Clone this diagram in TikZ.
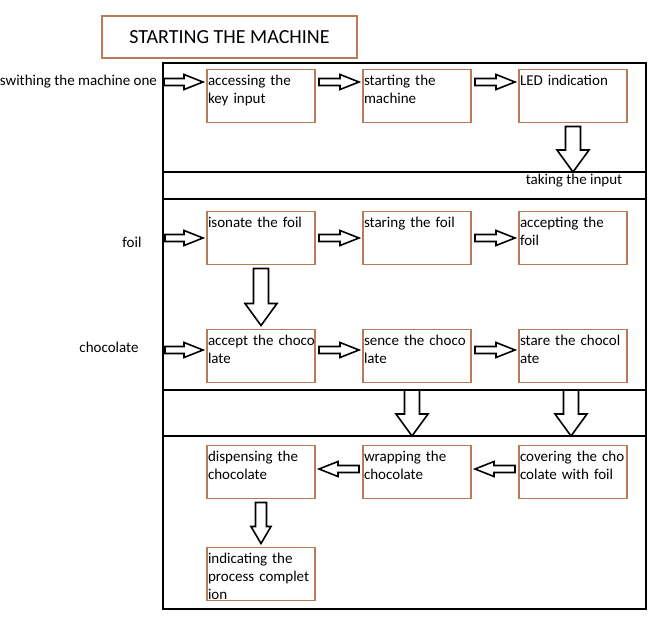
\documentclass[tikz,border=0pt]{standalone}
\usepackage{fontspec}
\setmainfont{Carlito}
\usetikzlibrary{calc}
\usetikzlibrary{positioning}

\definecolor{boxbrown}{RGB}{185,122,87}

\begin{document}
\begin{tikzpicture}[
		x=1pt,
		y=-1pt,
		font=\fontsize{15}{18}\selectfont,
		step box/.style={
			draw=boxbrown,
			line width=1.6pt,
			text width=106pt,
			inner xsep=1pt,
			inner ysep=3pt,
			text height=13pt,
			text depth=34pt,
			align=left,
			outer sep=4pt
		},
		title box/.style={
			draw=boxbrown,
			line width=1.6pt,
			minimum width=255pt,
			minimum height=42pt,
			font=\fontsize{20}{24}\selectfont
		},
		side label/.style={inner sep=2pt},
		block arrow/.style n args={3}{
			draw=black,
			line width=1.6pt,
			fill=white,
			to path={
				let \p1=(\tikztostart), \p2=(\tikztotarget),
				\n1={veclen(\x2-\x1,\y2-\y1)}, \n2={atan2(\y2-\y1,\x2-\x1)}
				in {[shift={(\p1)}, rotate=\n2]
					(0pt,-#1) -- ({\n1-#3},-#1) -- ({\n1-#3},-#2) -- ({\n1},0pt)
					-- ({\n1-#3},#2) -- ({\n1-#3},#1) -- (0pt,#1) -- cycle}
			}
		},
		flow arrow/.style={block arrow={3.5pt}{7.5pt}{19pt}},
		drop arrow/.style={block arrow={7.5pt}{16pt}{22pt}},
		small drop/.style={block arrow={5.5pt}{10pt}{17pt}},
		frame line/.style={line width=2.8pt}
		]
		\useasboundingbox (0,0) rectangle (666,627);

		% outer frame and section bars
		\draw[frame line] (163,63) rectangle (646,609);
		\coordinate (bar1) at (0,172);
		\coordinate (bar2) at (0,199);
		\coordinate (bar3) at (0,390);
		\coordinate (bar4) at (0,436);
		\coordinate (fw) at (165,0);
		\draw[frame line] (163,172) -- (646,172);
		\draw[frame line] (163,199) -- (646,199);
		\draw[frame line] (163,390) -- (646,390);
		\draw[frame line] (163,436) -- (646,436);

		\node[title box] (title) at (229.5,37) {STARTING THE MACHINE};

		% steps
		\node[step box] (b11) at (261,96) {accessing the\\key input};
		\node[step box, right=40pt of b11] (b12) {starting the\\machine};
		\node[step box, right=40pt of b12] (b13) {LED indication};

		\node[step box] (b21) at (261,238) {isonate the foil};
		\node[step box, right=40pt of b21] (b22) {staring the foil};
		\node[step box, right=40pt of b22] (b23) {accepting the\\foil};

		\node[step box] (b31) at (261,356) {\mbox{accept the choco}\\late};
		\node[step box, right=40pt of b31] (b32) {sence the choco\\late};
		\node[step box, right=40pt of b32] (b33) {stare the chocol\\ate};

		\node[step box] (b41) at (261,472) {dispensing the\\chocolate};
		\node[step box, right=40pt of b41] (b42) {wrapping the\\chocolate};
		\node[step box, right=40pt of b42] (b43) {covering the cho\\colate with foil};

		\node[step box] (b51) at (261,574) {indicating the\\process complet\\ion};

		% inputs
		\node[side label, anchor=east, outer sep=5pt] (switch) at (164,82) {swithing the machine one};
		\node[side label] (foil) at (132,242) {foil};
		\node[side label] (choco) at (109,347) {chocolate};
		\node[side label] (take) at (574,181) {taking the input};

		\draw[flow arrow] (switch.east) to ([yshift=14pt]b11.west);
		\draw[flow arrow] ([yshift=14pt]b11.east) to ([yshift=14pt]b12.west);
		\draw[flow arrow] ([yshift=14pt]b12.east) to ([yshift=14pt]b13.west);
		\draw[drop arrow] (b13.south) to (b13.south |- bar1);

		\draw[flow arrow] (fw |- b21.west) to (b21.west);
		\draw[flow arrow] (b21.east) to (b22.west);
		\draw[flow arrow] (b22.east) to (b23.west);
		\draw[drop arrow] (b21.south) to (b31.north);

		\draw[flow arrow] ([yshift=6pt]fw |- b31.west) to ([yshift=6pt]b31.west);
		\draw[flow arrow] ([yshift=6pt]b31.east) to ([yshift=6pt]b32.west);
		\draw[flow arrow] ([yshift=6pt]b32.east) to ([yshift=6pt]b33.west);

		\draw[drop arrow] ([xshift=-5pt]b42.north |- bar3) to ([xshift=-5pt]b42.north |- bar4);
		\draw[drop arrow] ([xshift=-2pt]b43.north |- bar3) to ([xshift=-2pt]b43.north |- bar4);

		\draw[flow arrow] ([yshift=3pt]b43.west) to ([yshift=3pt]b42.east);
		\draw[flow arrow] ([yshift=3pt]b42.west) to ([yshift=3pt]b41.east);
		\draw[small drop] (b41.south) to (b51.north);
	\end{tikzpicture}
\end{document}
